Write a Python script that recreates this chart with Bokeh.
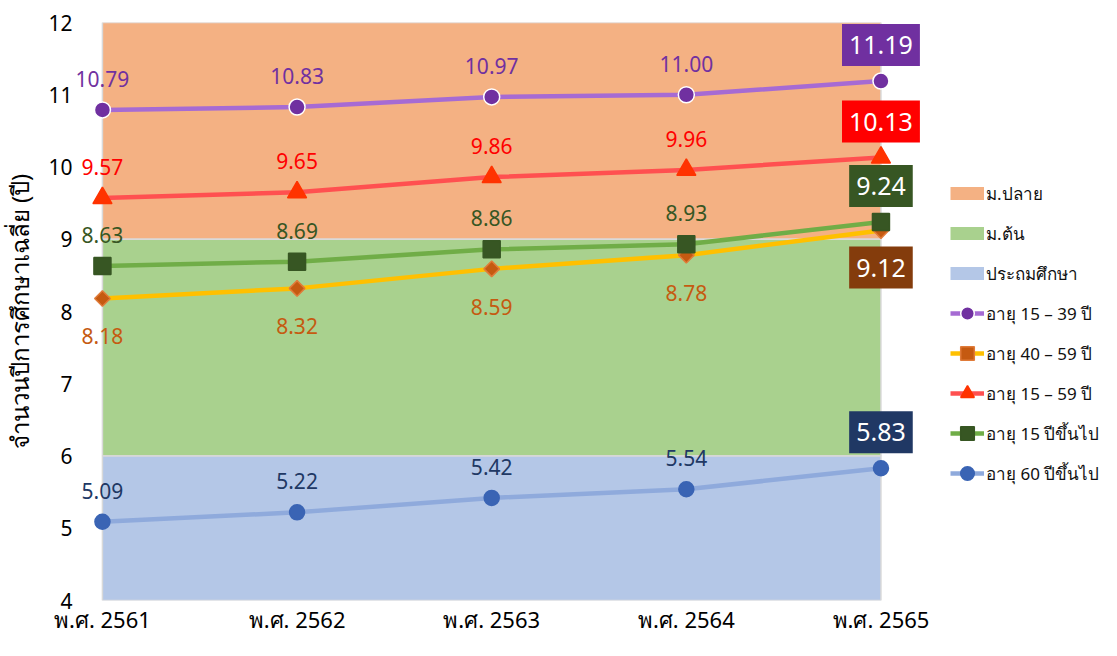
import math
from bokeh.plotting import figure
from bokeh.models import FixedTicker, Legend, LegendItem, Range1d
from bokeh.core.properties import value
from bokeh.embed import file_html
from bokeh.resources import INLINE

# ---------------- data ----------------
years = ["พ.ศ. 2561", "พ.ศ. 2562", "พ.ศ. 2563", "พ.ศ. 2564", "พ.ศ. 2565"]

age_15_39 = [10.79, 10.83, 10.97, 11.00, 11.19]
age_40_59 = [8.18, 8.32, 8.59, 8.78, 9.12]
age_15_59 = [9.57, 9.65, 9.86, 9.96, 10.13]
age_15_up = [8.63, 8.69, 8.86, 8.93, 9.24]
age_60_up = [5.09, 5.22, 5.42, 5.54, 5.83]

series_names = ["อายุ 15 – 39 ปี", "อายุ 40 – 59 ปี", "อายุ 15 – 59 ปี",
                "อายุ 15 ปีขึ้นไป", "อายุ 60 ปีขึ้นไป"]

band_names = ["ม.ปลาย", "ม.ต้น", "ประถมศึกษา"]
band_bottom = [9, 6, 4]
band_top = [12, 9, 6]

y_ticks = [4, 5, 6, 7, 8, 9, 10, 11, 12]
y_title = "จำนวนปีการศึกษาเฉลี่ย (ปี)"

# ---------------- styles ----------------
FONT = "Noto Sans"
band_colors = ["#F4B183", "#A9D18E", "#B4C7E7"]

styles = [
    dict(line="#A66BD3", marker="circle", mcolor="#7030A0", size=16, angle=0.0,
         lcolor="#7030A0", box="#7030A0", side=-1, mline="white"),
    dict(line="#FFC000", marker="square", mcolor="#C55A11", size=11, angle=math.pi / 4,
         lcolor="#C55A11", box="#843C0C", side=1, mline="#E07B39"),
    dict(line="#FF5050", marker="triangle", mcolor="#FF3300", size=19, angle=0.0,
         lcolor="#FF0000", box="#FF0000", side=-1, mline="#FF3300"),
    dict(line="#70AD47", marker="square", mcolor="#375623", size=17, angle=0.0,
         lcolor="#375623", box="#375623", side=-1, mline="#375623"),
    dict(line="#8FAADC", marker="circle", mcolor="#3A64B4", size=15, angle=0.0,
         lcolor="#203864", box="#203864", side=-1, mline="#3A64B4"),
]
series_values = [age_15_39, age_40_59, age_15_59, age_15_up, age_60_up]

n = len(years)
xs = list(range(n))
NAN = float("nan")

p = figure(width=1100, height=640, output_backend="svg", toolbar_location=None,
           x_range=Range1d(-0.1538, 5.128), y_range=Range1d(4, 12),
           min_border_left=70, min_border_right=0, min_border_top=22,
           min_border_bottom=40)
p.outline_line_color = None
p.grid.visible = False
p.background_fill_color = "white"

# bands
band_items = []
for name, b, t, c in zip(band_names, band_bottom, band_top, band_colors):
    p.quad(left=[xs[0]], right=[xs[-1]], bottom=[b], top=[t],
           fill_color=c, line_color="#D9D9D9", line_width=1.5)
    # legend swatch only (nothing drawn in the plot area)
    sw = p.line(x=[NAN, NAN], y=[NAN, NAN], line_color=c, line_width=13,
                line_cap="butt")
    band_items.append(LegendItem(label=name, renderers=[sw]))

# series
series_items = []
for name, vals, st in zip(series_names, series_values, styles):
    lr = p.line(xs, vals, line_color=st["line"], line_width=4.5)
    sr = p.scatter(xs, vals, marker=st["marker"], size=st["size"], angle=st["angle"],
                   fill_color=st["mcolor"], line_color=st["mline"], line_width=1.5)
    series_items.append(LegendItem(label=name, renderers=[lr, sr]))
    p.text(xs[:-1], vals[:-1], text=[f"{v:.2f}" for v in vals[:-1]],
           text_color=st["lcolor"], text_font=value(FONT), text_font_size="21px",
           text_align="center", text_baseline="middle",
           y_offset=-31 if st["side"] < 0 else 38)
    p.text([xs[-1]], [vals[-1]], text=[f"{vals[-1]:.2f}"],
           text_color="white", text_font=value(FONT), text_font_size="25px",
           text_align="center", text_baseline="middle",
           y_offset=-36 if st["side"] < 0 else 37,
           background_fill_color=st["box"], padding=dict(x=7, y=12))

# axes
p.yaxis.ticker = FixedTicker(ticks=y_ticks)
p.yaxis.axis_line_color = None
p.yaxis.major_tick_line_color = None
p.yaxis.major_tick_out = 0
p.yaxis.minor_tick_line_color = None
p.yaxis.minor_tick_out = 0
p.yaxis.major_label_text_font = FONT
p.yaxis.major_label_text_font_size = "21px"
p.yaxis.major_label_text_color = "#000000"
p.yaxis.major_label_standoff = 0
p.yaxis.axis_label = y_title
p.yaxis.axis_label_text_font = FONT
p.yaxis.axis_label_text_font_size = "24px"
p.yaxis.axis_label_text_font_style = "normal"
p.yaxis.axis_label_text_color = "#000000"
p.yaxis.axis_label_standoff = 9

p.xaxis.ticker = FixedTicker(ticks=xs)
p.xaxis.major_label_overrides = {i: y for i, y in zip(xs, years)}
p.xaxis.axis_line_color = None
p.xaxis.major_tick_line_color = None
p.xaxis.major_tick_out = 0
p.xaxis.minor_tick_line_color = None
p.xaxis.minor_tick_out = 0
p.xaxis.major_label_text_font = FONT
p.xaxis.major_label_text_font_size = "22px"
p.xaxis.major_label_text_color = "#000000"
p.xaxis.major_label_standoff = 3

items = band_items + series_items
legend = Legend(items=items, location=(878, 107), border_line_color=None,
                background_fill_alpha=0, label_text_font=FONT,
                label_text_font_size="17px", label_text_color="#111111",
                glyph_width=34, glyph_height=40,
                label_height=40, spacing=0, padding=0, margin=0, label_standoff=2)
p.add_layout(legend)

open("out.html", "w").write(file_html(p, INLINE))
